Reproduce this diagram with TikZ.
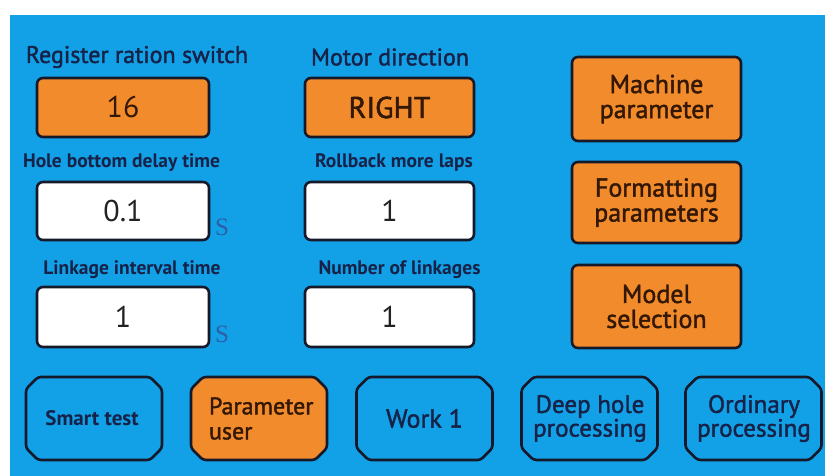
\documentclass[tikz,border=0pt]{standalone}
\usepackage{fontspec}
\setmainfont{PT Sans}
\newfontfamily\medfont[FakeBold=1.6]{PT Sans}
\newfontfamily\unitfont{Liberation Serif}
\usetikzlibrary{calc}
\definecolor{panelblue}{HTML}{12A0E6}
\definecolor{btnorange}{HTML}{F28B2B}
\definecolor{edgedark}{HTML}{16192A}
\definecolor{labelnavy}{HTML}{172248}
\definecolor{valtext}{HTML}{222222}
\definecolor{brownish}{HTML}{341806}
\definecolor{unitblue}{HTML}{2C5FA8}
\tikzset{
  box/.style={draw=edgedark, line width=2.6pt, rounded corners=6pt, inner sep=0pt, align=center},
  obox/.style={box, fill=btnorange},
  wbox/.style={box, fill=white},
  valfont/.style={font=\fontsize{30}{30}\selectfont, text=valtext},
  otext/.style={font=\medfont\fontsize{26}{25}\selectfont, text=brownish},
  lbl/.style={text=labelnavy, inner sep=0pt},
  smalllbl/.style={lbl, font=\bfseries\fontsize{19.5}{19.5}\selectfont},
  octline/.style={draw=edgedark, line width=2.6pt, rounded corners=3pt},
  octtext/.style={inner sep=0pt, text=labelnavy, minimum width=136pt, minimum height=83pt},
  unit/.style={text=unitblue, font=\unitfont\fontsize{25}{25}\selectfont, inner sep=0pt}
}
% octagon outline centred at (#1,#2), filled with #3
\newcommand\octoshape[3]{%
  \path[octline, fill=#3]
    ({#1-56},{#2-41.5}) -- ({#1+56},{#2-41.5}) -- ({#1+68},{#2-29.5}) --
    ({#1+68},{#2+29.5}) -- ({#1+56},{#2+41.5}) -- ({#1-56},{#2+41.5}) --
    ({#1-68},{#2+29.5}) -- ({#1-68},{#2-29.5}) -- cycle;}
\begin{document}
\begin{tikzpicture}[x=1pt,y=-1pt]
\useasboundingbox (0,0) rectangle (825,476);
\fill[white] (0,0) rectangle (825,476);
\fill[panelblue] (10,15) rectangle (825,476);

% column 1
\node[lbl, font=\medfont\fontsize{24}{24}\selectfont] (t1) at (137,57) {Register ration switch};
\node[obox, minimum width=172pt, minimum height=59pt, valfont, text=brownish] (b1) at (123,107.5) {16};
\node[smalllbl] (t3) at (121.5,163) {Hole bottom delay time};
\node[wbox, minimum width=172pt, minimum height=58pt, valfont] (b3) at (123,211) {0.1};
\node[unit] (u3) at (222,227) {S};
\node[smalllbl] (t5) at (132,270) {Linkage interval time};
\node[wbox, minimum width=172pt, minimum height=60pt, valfont] (b5) at (123,317) {1};
\node[unit] (u5) at (222,334) {S};

% column 2
\node[lbl, font=\medfont\fontsize{24}{24}\selectfont] (t2) at (390,57) {Motor direction};
\node[obox, minimum width=169pt, minimum height=59pt, font=\medfont\fontsize{30}{30}\selectfont, text=brownish] (b2) at (389.5,107.5) {RIGHT};
\node[smalllbl] (t4) at (394,163) {Rollback more laps};
\node[wbox, minimum width=169pt, minimum height=58pt, valfont] (b4) at (389.5,211) {1};
\node[smalllbl] (t6) at (399.5,270) {Number of linkages};
\node[wbox, minimum width=169pt, minimum height=60pt, valfont] (b6) at (389.5,317) {1};

% column 3
\node[obox, minimum width=169pt, minimum height=84pt, otext] (m1) at (656.5,99) {Machine\\parameter};
\node[obox, minimum width=169pt, minimum height=81pt, otext] (m2) at (656.5,202.5) {Formatting\\parameters};
\node[obox, minimum width=169pt, minimum height=83pt, otext] (m3) at (656.5,306.5) {Model\\selection};

% bottom row
\octoshape{94}{418.5}{panelblue}
\octoshape{259}{418.5}{btnorange}
\octoshape{424.5}{418.5}{panelblue}
\octoshape{589.5}{418.5}{panelblue}
\octoshape{753.5}{418.5}{panelblue}
\node[octtext, font=\bfseries\fontsize{21}{21}\selectfont] (s1) at (92,418.5) {Smart test};
\node[octtext, text=brownish, align=left, font=\medfont\fontsize{24}{25}\selectfont, text width=112pt] (s2) at (265,418.5) {Parameter\\user};
\node[octtext, font=\medfont\fontsize{26}{26}\selectfont] (s3) at (424.5,418.5) {Work 1};
\node[octtext, align=center, font=\medfont\fontsize{25}{21}\selectfont] (s4) at (590,418.5) {Deep hole\\processing};
\node[octtext, align=center, font=\medfont\fontsize{25}{21}\selectfont] (s5) at (754,418.5) {Ordinary\\processing};
\end{tikzpicture}
\end{document}
